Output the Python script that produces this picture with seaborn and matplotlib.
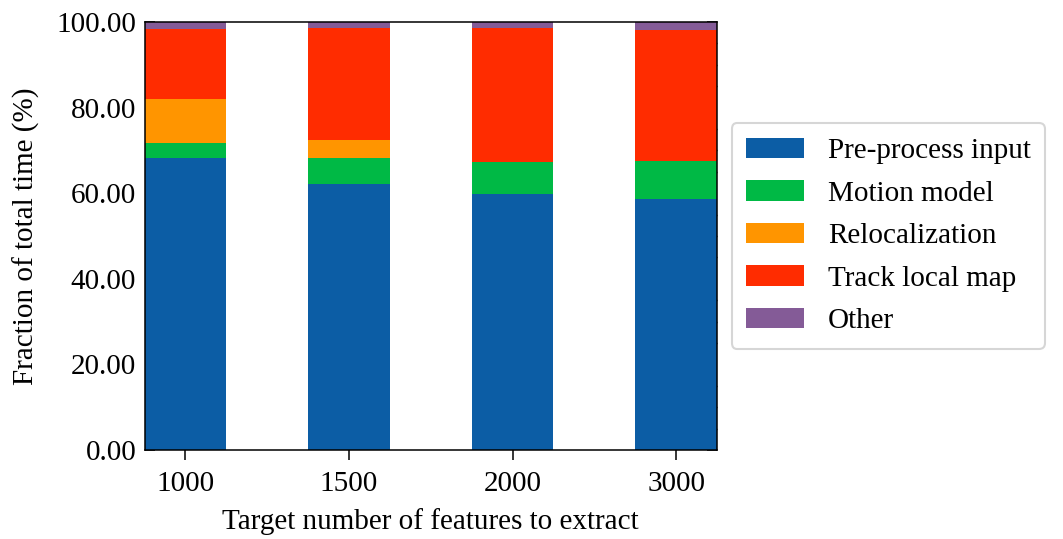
import numpy as np
import pandas as pd
import seaborn as sns
import matplotlib
matplotlib.use("Agg")
import matplotlib.pyplot as plt
from matplotlib.patches import Patch
from matplotlib.ticker import MultipleLocator, FormatStrFormatter

# Share of tracking time per stage (%), for each target feature count
features = ["1000", "1500", "2000", "3000"]
preprocess = [68.2, 62.1, 59.8, 58.6]
motion_model = [3.5, 6.1, 7.4, 8.9]
relocalization = [10.3, 4.2, 0.1, 0.0]
track_local_map = [16.4, 26.3, 31.4, 30.7]
other = [1.6, 1.3, 1.3, 1.8]

stages = ["Pre-process input", "Motion model", "Relocalization",
          "Track local map", "Other"]
colors = ["#0C5DA5", "#00B945", "#FF9500", "#FF2C00", "#845B97"]

df = pd.DataFrame({
    "features": features,
    stages[0]: preprocess,
    stages[1]: motion_model,
    stages[2]: relocalization,
    stages[3]: track_local_map,
    stages[4]: other,
})
cum = df[stages].cumsum(axis=1)
cum["features"] = df["features"]

sns.set_theme(style="ticks")
plt.rcParams["font.family"] = ["Liberation Serif", "DejaVu Serif"]
plt.rcParams["text.color"] = "black"
plt.rcParams["axes.labelcolor"] = "black"

FS = 21

fig = plt.figure(figsize=(10.63, 5.39), dpi=100)
ax = fig.add_axes([0.136, 0.165, 0.5385, 0.794])

# Stacked bars: draw cumulative totals from the top segment down
for stage, color in zip(stages[::-1], colors[::-1]):
    sns.barplot(data=cum, x="features", y=stage, order=features,
                color=color, width=0.5, saturation=1, ax=ax,
                edgecolor="none", linewidth=0, errorbar=None)

ax.set_xlim(-0.25, 3.25)
ax.set_ylim(0, 100)
ax.yaxis.set_major_locator(MultipleLocator(20))
ax.yaxis.set_minor_locator(MultipleLocator(5))
ax.yaxis.set_major_formatter(FormatStrFormatter("%.2f"))
ax.tick_params(axis="y", which="both", direction="in", left=True, right=True)
ax.tick_params(axis="y", which="major", length=7, width=1.1, pad=6)
ax.tick_params(axis="y", which="minor", length=4, width=1.0)
ax.tick_params(axis="x", which="major", direction="out", length=7, width=1.1,
               top=False, pad=8)
ax.tick_params(axis="both", labelsize=FS, colors="black")
for s in ax.spines.values():
    s.set_linewidth(1.1)
    s.set_color("black")

ax.set_xlabel("Target number of features to extract", fontsize=FS, labelpad=8)
ax.set_ylabel("Fraction of total time (%)", fontsize=FS, labelpad=12)

handles = [Patch(facecolor=c, edgecolor="none", label=s)
           for s, c in zip(stages, colors)]
leg = ax.legend(handles=handles, loc="center left", bbox_to_anchor=(1.0, 0.5),
                fontsize=FS, frameon=True, fancybox=True, handlelength=2.0,
                handleheight=0.7, borderpad=0.5, labelspacing=0.55,
                handletextpad=0.8, borderaxespad=0.5)
leg.get_frame().set_edgecolor("#cccccc")
leg.get_frame().set_linewidth(1.5)

fig.savefig("out.png", dpi=100)
